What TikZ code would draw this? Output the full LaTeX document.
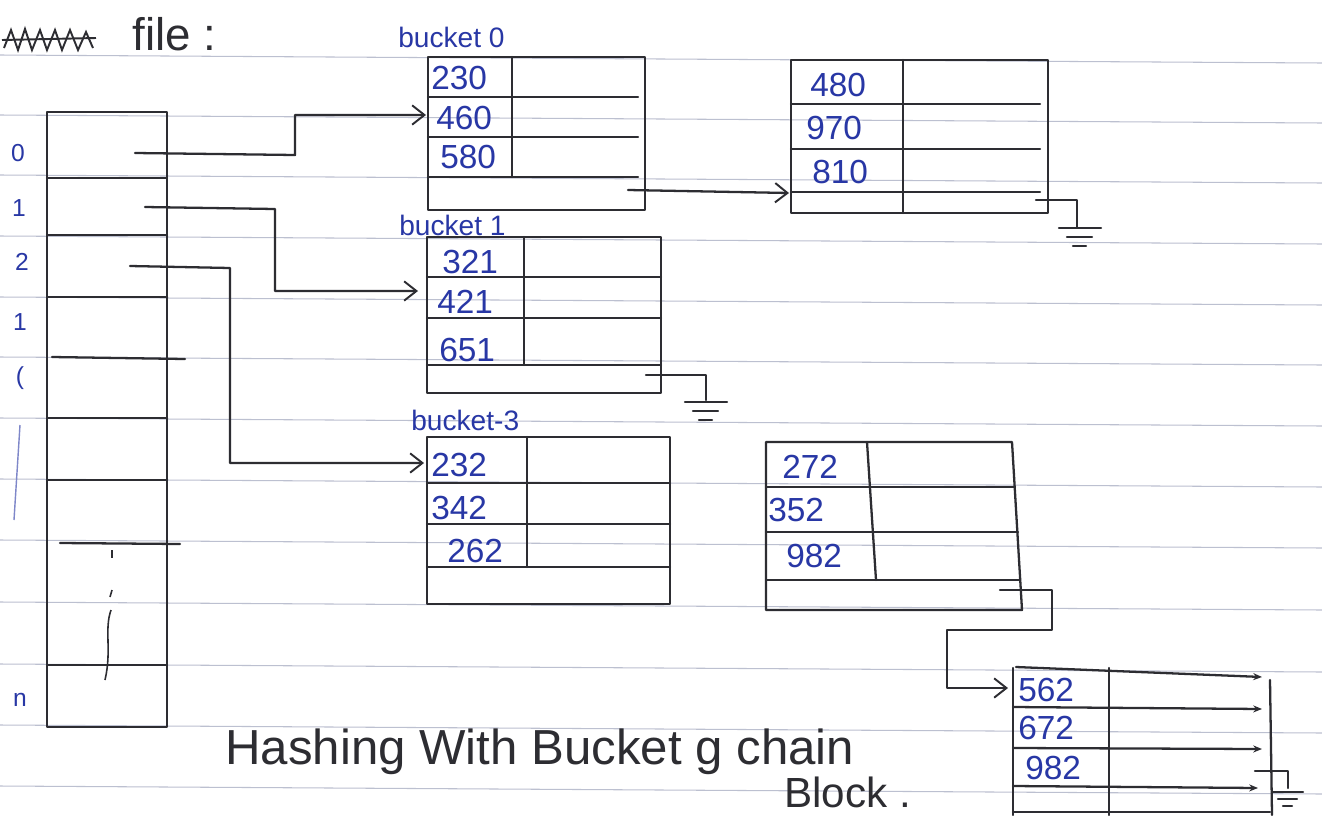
\documentclass[tikz,border=0pt]{standalone}
\usepackage{fontspec}
\setmainfont{Liberation Sans}
\usetikzlibrary{arrows.meta}
\definecolor{ink}{RGB}{45,45,50}
\definecolor{blueink}{RGB}{40,55,165}
\definecolor{ruleline}{RGB}{188,192,208}
\newcommand\groundmark[1]{\begin{scope}[shift={(#1)}]
  \draw[edge] (-21,0) -- (21,0);
  \draw[edge] (-13,9) -- (12,9);
  \draw[edge] (-7,18) -- (6,18);
\end{scope}}
\begin{document}
\begin{tikzpicture}[x=0.02cm,y=-0.02cm,
  edge/.style={draw=ink,line width=1.3pt,line cap=round,line join=round},
  ptr/.style={edge,-{Straight Barb[length=7pt,width=11pt,line width=1.1pt]}},
  tipline/.style={edge,-{Stealth[length=5pt,width=4pt]}},
  num/.style={text=blueink,font=\fontsize{19}{19}\selectfont,anchor=west,inner sep=0pt},
  blbl/.style={text=blueink,font=\fontsize{16}{16}\selectfont,anchor=west,inner sep=0pt},
  idx/.style={text=blueink,font=\fontsize{14}{14}\selectfont,inner sep=0pt},
  ruled/.style={draw=ruleline,line width=0.6pt},
  captxt/.style={text=ink,font=\fontsize{28}{28}\selectfont,anchor=base west,inner sep=0pt}]
\fill[white] (0,0) rectangle (1322,815);
\useasboundingbox (0,0) rectangle (1322,815);

% ruled paper
\foreach \yy in {55,115,175,236,297,357,418,479,540,602,664,725,786}
  \draw[ruled] (0,\yy) -- (1322,\yy+8);

% heading
\draw[ink,line width=1.1pt] (4,48) -- (11,30) -- (18,50) -- (25,29) -- (32,50) -- (40,30) -- (47,50) -- (55,30) -- (62,50) -- (70,30) -- (78,50) -- (86,32) -- (93,48);
\draw[ink,line width=1.1pt] (2,40) -- (96,38);
\node[captxt,font=\fontsize{26}{26}\selectfont] (file) at (132,50) {file :};

% index table
\draw[edge] (47,112) rectangle (167,727);
\foreach \yy in {178,235,297,418,480,665} \draw[edge] (47,\yy) -- (167,\yy);
\draw[edge] (52,357) -- (185,359);
\draw[edge] (60,543) -- (180,544);
\node[idx] (l0) at (18,153) {0};
\node[idx] (l1) at (19,208) {1};
\node[idx] (l2) at (22,262) {2};
\node[idx] (l3) at (20,322) {1};
\node[idx] (l4) at (20,378) {(};
\draw[blueink!60,line width=0.8pt] (20,425) -- (14,520);
\node[idx] (ln) at (20,700) {n};
\draw[ink,line width=0.9pt] (112,550) -- (112,558);
\draw[ink,line width=0.9pt] (112,590) -- (110,597);
\draw[ink,line width=0.9pt] (111,610) .. controls (104,630) and (112,650) .. (105,680);
\coordinate (p0) at (135,153);
\coordinate (p1) at (145,207);
\coordinate (p2) at (130,266);

% bucket 0
\node[blbl] (lb0) at (398,37) {bucket 0};
\draw[edge] (428,57) rectangle (645,210);
\foreach \yy in {97,137,177} \draw[edge] (428,\yy) -- (638,\yy);
\draw[edge] (512,57) -- (512,177);
\node[num] (n230) at (431,78) {230};
\node[num] (n460) at (436,118) {460};
\node[num] (n580) at (440,157) {580};
\coordinate (b0in) at (426,115);
\coordinate (b0out) at (628,190);
\draw[ptr] (p0) -- ++(160,2) |- (b0in);

% overflow of bucket 0
\draw[edge] (791,60) rectangle (1048,213);
\foreach \yy in {104,149,192} \draw[edge] (791,\yy) -- (1040,\yy);
\draw[edge] (903,60) -- (903,213);
\node[num] (n480) at (810,85) {480};
\node[num] (n970) at (806,128) {970};
\node[num] (n810) at (812,172) {810};
\coordinate (o0in) at (789,193);
\draw[ptr] (b0out) -- (o0in);
\coordinate (o0g) at (1036,200);
\draw[edge] (o0g) -- (1077,200) -- (1077,227);
\groundmark{1080,228}

% bucket 1
\node[blbl] (lb1) at (399,225) {bucket 1};
\draw[edge] (427,237) rectangle (661,393);
\foreach \yy in {277,318,365} \draw[edge] (427,\yy) -- (661,\yy);
\draw[edge] (524,237) -- (524,365);
\node[num] (n321) at (442,262) {321};
\node[num] (n421) at (437,302) {421};
\node[num] (n651) at (439,350) {651};
\coordinate (b1in) at (418,291);
\draw[ptr] (p1) -- ++(130,2) |- (b1in);
\coordinate (b1g) at (646,375);
\draw[edge] (b1g) -- (706,375) -- (706,400);
\groundmark{706,402}

% bucket 3
\node[blbl] (lb3) at (411,420) {bucket-3};
\draw[edge] (427,437) rectangle (670,604);
\foreach \yy in {483,524,567} \draw[edge] (427,\yy) -- (670,\yy);
\draw[edge] (527,437) -- (527,567);
\node[num] (n232) at (431,465) {232};
\node[num] (n342) at (431,508) {342};
\node[num] (n262) at (447,551) {262};
\coordinate (b3in) at (424,463);
\draw[ptr] (p2) -- ++(100,2) |- (b3in);

% second block
\draw[edge] (766,442) -- (1012,442) -- (1022,610) -- (766,610) -- cycle;
\draw[edge] (766,487) -- (1015,487);
\draw[edge] (766,532) -- (1018,532);
\draw[edge] (766,580) -- (1020,580);
\draw[edge] (867,442) -- (876,580);
\node[num] (n272) at (782,467) {272};
\node[num] (n352) at (768,510) {352};
\node[num] (n982a) at (786,556) {982};
\coordinate (c2out) at (1000,590);
\coordinate (c3in) at (1008,688);
\draw[ptr] (c2out) -| (1052,630) -| (947,688) -- (c3in);

% third block
\draw[edge] (1013,668) -- (1013,815);
\draw[edge] (1109,668) -- (1109,815);
\draw[edge] (1270,680) -- (1272,815);
\draw[tipline] (1016,667) -- (1262,677);
\draw[tipline] (1013,707) -- (1262,709);
\draw[tipline] (1013,748) -- (1262,749);
\draw[tipline] (1013,786) -- (1258,788);
\draw[edge] (1013,812) -- (1270,812);
\node[num] (n562) at (1018,690) {562};
\node[num] (n672) at (1018,728) {672};
\node[num] (n982b) at (1025,768) {982};
\coordinate (c3g) at (1255,771);
\draw[edge] (c3g) -- (1288,771) -- (1288,788);
\begin{scope}[shift={(1288,792)}]
  \draw[edge] (-15,0) -- (15,0);
  \draw[edge] (-10,7) -- (9,7);
  \draw[edge] (-5,14) -- (4,14);
\end{scope}

% caption
\node[captxt] (cap1) at (225,764) {Hashing With Bucket g chain};
\node[captxt,font=\fontsize{24}{24}\selectfont] (cap2) at (784,807) {Block .};
\end{tikzpicture}
\end{document}
